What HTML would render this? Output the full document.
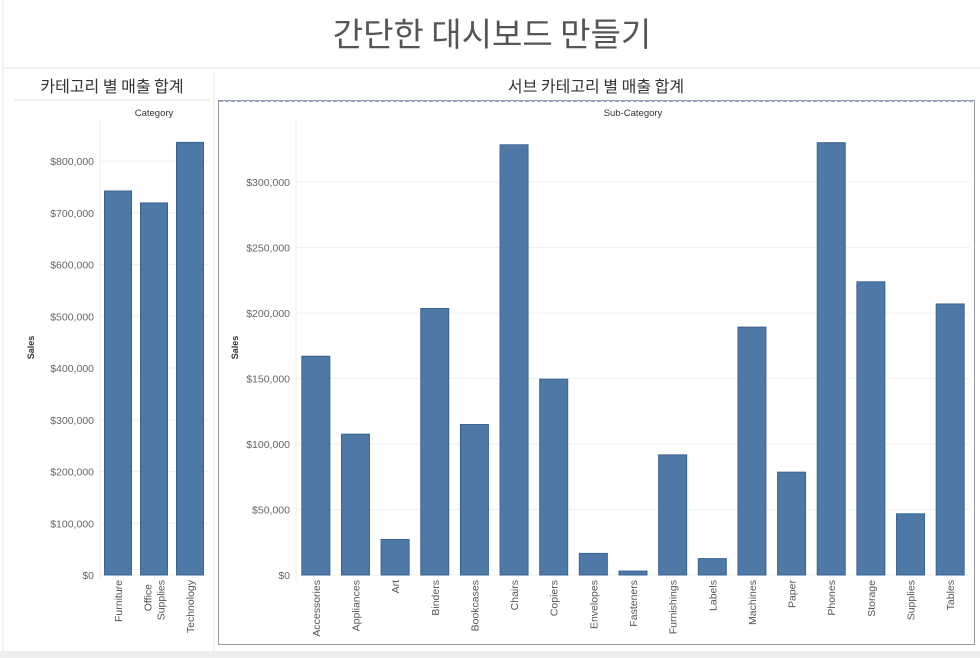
<!DOCTYPE html>
<html><head><meta charset="utf-8">
<style>
body{margin:0;width:980px;height:658px;background:#fff;overflow:hidden;font-family:"Liberation Sans","Noto Sans CJK KR",sans-serif;}
svg{display:block}
</style></head>
<body>
<svg id="s" width="980" height="658" xmlns="http://www.w3.org/2000/svg">
<rect x="0" y="651" width="980" height="7" fill="#eeeeee"/>
<line x1="3" y1="0" x2="3" y2="651" stroke="#e4e4e4"/>
<text x="492" y="46" text-anchor="middle" font-size="33" fill="#555" font-family="'Noto Sans CJK KR',sans-serif">간단한 대시보드 만들기</text>
<line x1="5" y1="68" x2="980" y2="68" stroke="#e0e0e0"/>
<line x1="214" y1="72" x2="214" y2="651" stroke="#e6e6e6"/>
<text x="112" y="92" text-anchor="middle" font-size="16" fill="#333" font-family="'Noto Sans CJK KR',sans-serif">카테고리 별 매출 합계</text>
<line x1="14" y1="100" x2="210" y2="100" stroke="#e0e0e0"/>
<text x="596" y="92" text-anchor="middle" font-size="16" fill="#333" font-family="'Noto Sans CJK KR',sans-serif">서브 카테고리 별 매출 합계</text>
<rect x="218.5" y="100.5" width="756" height="544" fill="none" stroke="#999"/>
<line x1="219" y1="101" x2="974" y2="101" stroke="#9aa6c0" stroke-width="2" stroke-dasharray="4,2"/>
<g id="left"></g>
<g id="right"></g>
</svg>
<script>
const catNames=["Furniture","Office Supplies","Technology"];
const catSales=[742000,719000,836000];
const catTicks=[0,100000,200000,300000,400000,500000,600000,700000,800000];
const subNames=["Accessories","Appliances","Art","Binders","Bookcases","Chairs","Copiers","Envelopes","Fasteners","Furnishings","Labels","Machines","Paper","Phones","Storage","Supplies","Tables"];
const subSales=[167000,107500,27100,203400,114900,328400,149500,16500,3000,91700,12500,189200,78500,330000,223800,46700,206900];
const subTicks=[0,50000,100000,150000,200000,250000,300000];

const NS="http://www.w3.org/2000/svg";
function mk(p,tag,a){const e=document.createElementNS(NS,tag);for(const k in a)e.setAttribute(k,a[k]);p.appendChild(e);return e;}
function fmt(v){return "$"+v.toLocaleString("en-US");}

function chart(g,o){
  const y=v=>o.y0-v*o.scale;
  const step=(o.x1-o.x0)/o.names.length;
  const hdr=mk(g,"text",{x:(o.x0+o.x1)/2,y:o.top-4,"text-anchor":"middle","font-size":"9.5",fill:"#333"});
  
  
  hdr.textContent=o.header;
  const ax=mk(g,"line",{x1:o.x0,y1:o.top,x2:o.x0,y2:o.y0+5,stroke:"#eee"});
  
  
  const yt=mk(g,"text",{x:o.ylabX,y:(o.top+o.y0)/2,"text-anchor":"middle","font-size":"9",fill:"#333","font-weight":"bold",transform:`rotate(-90 ${o.ylabX} ${(o.top+o.y0)/2})`});
  
  
  yt.textContent="Sales";
  o.ticks.forEach(t=>{
    const gl=mk(g,"line",{x1:o.x0,y1:y(t),x2:o.x1,y2:y(t),stroke:"#f0f0f0"});
    
    
    const tl=mk(g,"text",{x:o.x0-6,y:y(t)+4,"text-anchor":"end","font-size":"10.5",fill:"#666"});
    
    
    tl.textContent=fmt(t);
  });
  o.names.forEach((n,i)=>{
    const cx=o.x0+step*(i+0.5);
    const r=mk(g,"rect",{x:cx-o.bw/2,y:y(o.vals[i]),width:o.bw,height:o.vals[i]*o.scale,fill:"#4e79a7",stroke:"#3b6391","stroke-width":"1"});
    
    
    const parts=o.wrap&&n.includes(" ")?n.split(" "):[n];
    parts.forEach((p,k)=>{
      const tx=cx+4+(k-(parts.length-1)/2)*13;
      const t=mk(g,"text",{x:tx,y:o.y0+5,"text-anchor":"end","font-size":"10.5",fill:"#555",transform:`rotate(-90 ${tx} ${o.y0+5})`});
      
      
      if(parts.length>1&&k==0){t.setAttribute("transform",`rotate(-90 ${tx} ${o.y0+5})`);t.setAttribute("x",tx);t.setAttribute("dx","-4");}
      t.textContent=p;
    });
  });
}
chart(document.getElementById("left"),{names:catNames,vals:catSales,ticks:catTicks,x0:100,x1:208,y0:575,top:120,scale:517.5/1e6,bw:27,header:"Category",ylabX:34,wrap:true});
chart(document.getElementById("right"),{names:subNames,vals:subSales,ticks:subTicks,x0:296,x1:970,y0:575,top:120,scale:393/300000,bw:28,header:"Sub-Category",ylabX:238,wrap:false});
</script>
</body></html>
